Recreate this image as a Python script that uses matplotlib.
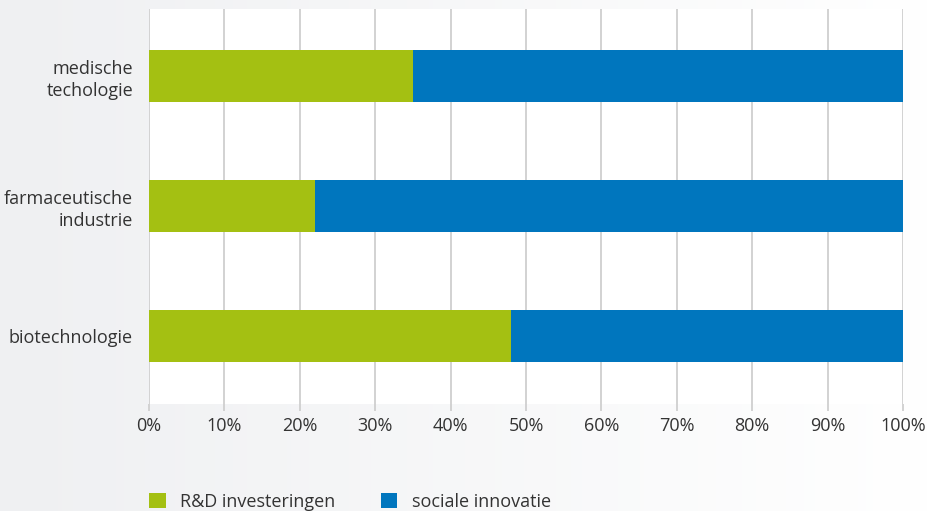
import numpy as np
import matplotlib.pyplot as plt
from matplotlib.patches import Patch

plt.rcParams['font.family'] = ['Open Sans', 'DejaVu Sans']

categories = ["biotechnologie", "farmaceutische\nindustrie", "medische\ntechologie"]
rd_share = [48, 22, 35]
social_share = [52, 78, 65]
series_names = ["R&D investeringen", "sociale innovatie"]
tick_values = list(range(0, 101, 10))
tick_labels = [f"{v}%" for v in tick_values]

GREEN = "#a4c012"
BLUE = "#0076be"
TEXT = "#333333"
GRID = "#cfcfcf"
FS = 13

fig = plt.figure(figsize=(9.31, 5.11), dpi=100)

# soft horizontal gradient behind everything
bg = fig.add_axes([0, 0, 1, 1], zorder=-10)
left_rgb = np.array([239, 240, 242]) / 255
right_rgb = np.array([255, 255, 255]) / 255
t = np.linspace(0, 1, 256)[None, :, None]
grad = left_rgb * (1 - t) + right_rgb * t
bg.imshow(grad, aspect="auto", extent=[0, 1, 0, 1])
bg.set_axis_off()

ax = fig.add_axes([149 / 931, 107 / 511, (903 - 149) / 931, (404 - 9) / 511])
ax.set_facecolor("white")

y = np.arange(len(categories))
bar_h = 0.4
ax.barh(y, rd_share, height=bar_h, color=GREEN, zorder=3)
ax.barh(y, social_share, left=rd_share, height=bar_h, color=BLUE, zorder=3)

ax.set_xlim(0, 100)
ax.set_ylim(-0.523, 2.515)
ax.set_xticks(tick_values)
ax.set_xticklabels(tick_labels)
ax.set_yticks(y)
ax.set_yticklabels(categories, linespacing=1.3)

ax.grid(axis="x", color=GRID, linewidth=1.3, zorder=0)
ax.tick_params(axis="x", length=5, width=1.3, color=GRID, pad=4,
               labelsize=FS, labelcolor=TEXT)
ax.tick_params(axis="y", length=0, pad=11.5, labelsize=FS, labelcolor=TEXT)
for s in ax.spines.values():
    s.set_visible(False)

handles = [Patch(facecolor=GREEN, edgecolor="none"),
           Patch(facecolor=BLUE, edgecolor="none")]
fig.legend(handles, series_names, loc="center left",
           bbox_to_anchor=(133 / 931, 9 / 511), ncol=2, frameon=False,
           handlelength=0.9, handleheight=0.9, handletextpad=0.8,
           columnspacing=2.55, fontsize=FS, labelcolor=TEXT)

fig.savefig("out.png", dpi=100)
